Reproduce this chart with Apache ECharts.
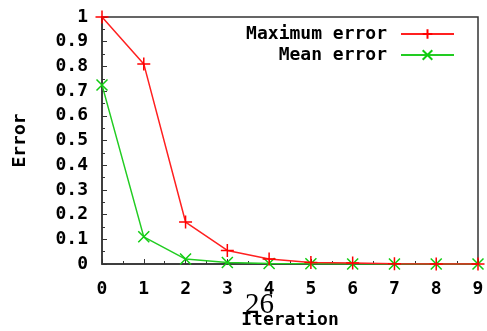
<!DOCTYPE html>
<html>
<head>
<meta charset="utf-8">
<script src="https://cdn.jsdelivr.net/npm/echarts@6/dist/echarts.min.js"></script>
<style>
  html, body { margin: 0; padding: 0; background: #fff; }
  #chart { width: 487px; height: 331px; }
</style>
</head>
<body>
<div id="chart"></div>
<script>
// iterations on the x axis
const iterations = [0, 1, 2, 3, 4, 5, 6, 7, 8, 9];
// error values
const maxError = [1, 0.81, 0.17, 0.055, 0.02, 0.006, 0.004, 0.001, 0, 0];
const meanError = [0.725, 0.11, 0.02, 0.006, 0.002, 0.001, 0, 0, 0, 0];

const monoFont = '"DejaVu Sans Mono", "Liberation Mono", monospace';
const plusSymbol = 'path://M0,5L10,5M5,0L5,10';
const crossSymbol = 'path://M0,0L10,10M10,0L0,10';

const toPairs = (vals) => vals.map((v, i) => [iterations[i], v]);

const chart = echarts.init(document.getElementById('chart'));

const legendBase = {
  right: 27,
  align: 'right',
  itemWidth: 53,
  itemHeight: 12,
  itemGap: 14,
  textStyle: {
    fontFamily: monoFont, fontWeight: 'bold', fontSize: 18, color: '#000',
    padding: [0, 9, 0, 0],
  },
};

const options = {
  animation: false,
  grid: {
    left: 102,
    right: 9,
    top: 17,
    bottom: 67,
    outerBoundsMode: 'none',
    show: true,
    borderColor: '#333',
    borderWidth: 1.5,
  },
  legend: [
    { ...legendBase, top: 20, data: ['Maximum error'] },
    { ...legendBase, top: 41, data: ['Mean error'] },
  ],
  xAxis: {
    type: 'value',
    min: 0,
    max: 9,
    interval: 1,
    name: 'Iteration',
    nameLocation: 'middle',
    nameGap: 47,
    nameTextStyle: { fontFamily: monoFont, fontWeight: 'bold', fontSize: 18, color: '#000' },
    axisLine: { lineStyle: { color: '#333', width: 1.5 } },
    axisTick: { inside: true, length: 5, lineStyle: { color: '#333' } },
    minorTick: { show: true, splitNumber: 2, length: 3, lineStyle: { color: '#333' } },
    axisLabel: { margin: 16, fontFamily: monoFont, fontWeight: 'bold', fontSize: 18, color: '#000' },
    splitLine: { show: false },
  },
  yAxis: {
    type: 'value',
    min: 0,
    max: 1,
    interval: 0.1,
    name: 'Error',
    nameLocation: 'middle',
    nameGap: 73,
    nameTextStyle: { fontFamily: monoFont, fontWeight: 'bold', fontSize: 18, color: '#000' },
    axisLine: { show: true, lineStyle: { color: '#333', width: 1.5 } },
    axisTick: { show: true, inside: true, length: 5, lineStyle: { color: '#333' } },
    minorTick: { show: true, splitNumber: 2, length: 3, lineStyle: { color: '#333' } },
    axisLabel: {
      margin: 14,
      fontFamily: monoFont,
      fontWeight: 'bold',
      fontSize: 18,
      color: '#000',
      formatter: (v) => String(Math.round(v * 10) / 10),
    },
    splitLine: { show: false },
  },
  series: [
    {
      name: 'Maximum error',
      type: 'line',
      data: toPairs(maxError),
      symbol: plusSymbol,
      symbolSize: 13,
      lineStyle: { color: '#ff2020', width: 1.5 },
      itemStyle: { color: 'rgba(0,0,0,0)', borderColor: '#ff0000', borderWidth: 1.5 },
      z: 3,
    },
    {
      name: 'Mean error',
      type: 'line',
      data: toPairs(meanError),
      symbol: crossSymbol,
      symbolSize: 11,
      lineStyle: { color: '#22cc22', width: 1.5 },
      itemStyle: { color: 'rgba(0,0,0,0)', borderColor: '#11cc11', borderWidth: 1.5 },
      z: 2,
    },
  ],
  graphic: [
    {
      type: 'text',
      left: 245,
      top: 291,
      style: {
        text: '26',
        font: '29px "Liberation Serif", "DejaVu Serif", serif',
        fill: '#000',
      },
    },
  ],
};

chart.setOption(options);
</script>
</body>
</html>
